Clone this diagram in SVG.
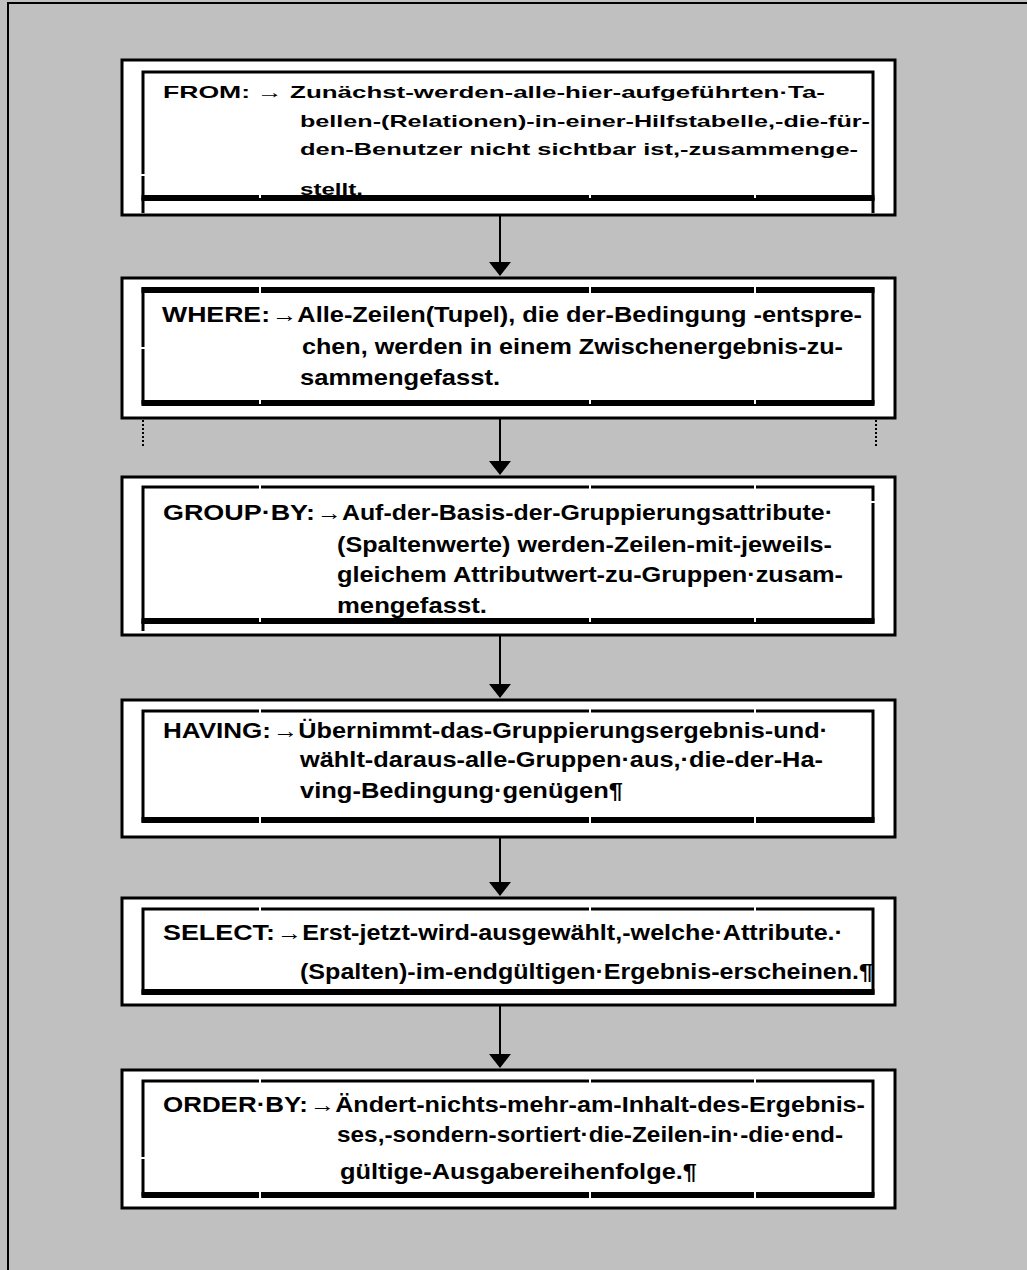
<svg xmlns="http://www.w3.org/2000/svg" width="1027" height="1270" viewBox="0 0 1027 1270">
<style>
.bg{fill:#c0c0c0}
.frame{fill:none;stroke:#000;stroke-width:2}
.outer{fill:#fff;stroke:#000;stroke-width:3}
.inner{fill:none;stroke:#000;stroke-width:3}
.thick{stroke:#000;stroke-width:6}
.gap{fill:#fff}
.t{font-family:"Liberation Sans",Arial,sans-serif;font-weight:bold;font-size:22px;fill:#000}
.s{font-size:17px}
.conn{stroke:#000;stroke-width:2;fill:none}
.dot{stroke:#000;stroke-width:2;stroke-dasharray:2 2;fill:none}
</style>
<defs>
<marker id="ah" markerWidth="14" markerHeight="22" refX="13" refY="11" orient="auto" markerUnits="userSpaceOnUse" viewBox="0 0 14 22">
<path d="M0,0 L14,11 L0,22 Z" fill="#000"/>
</marker>
</defs>
<rect class="bg" x="0" y="0" width="1027" height="1270"/>
<rect class="frame" x="8" y="3" width="1030" height="1280"/>

<g id="connectors">
<line class="conn" x1="500" y1="215" x2="500" y2="275" marker-end="url(#ah)"/>
<line class="conn" x1="500" y1="418" x2="500" y2="474" marker-end="url(#ah)"/>
<line class="conn" x1="500" y1="635" x2="500" y2="697" marker-end="url(#ah)"/>
<line class="conn" x1="500" y1="837" x2="500" y2="895" marker-end="url(#ah)"/>
<line class="conn" x1="500" y1="1005" x2="500" y2="1067" marker-end="url(#ah)"/>
<line class="dot" x1="143" y1="420" x2="143" y2="447"/>
<line class="dot" x1="876" y1="420" x2="876" y2="447"/>
</g>

<g id="from">
<rect class="outer" x="122" y="60" width="773" height="155"/>
<rect class="inner" x="143" y="72" width="730" height="126"/>
<line class="thick" x1="141.5" y1="198" x2="874.5" y2="198"/>
<line class="inner" x1="143" y1="198" x2="143" y2="213"/>
<line class="inner" x1="873" y1="198" x2="873" y2="213"/>
<rect class="gap" x="141" y="174" width="4" height="2"/>
<rect class="gap" x="259" y="194" width="2" height="4"/><rect class="gap" x="589" y="194" width="2" height="4"/><rect class="gap" x="754" y="194" width="2" height="4"/>
<text class="t s" x="163" y="98" textLength="87" lengthAdjust="spacingAndGlyphs">FROM:</text>
<text class="t s" x="257" y="98" textLength="568" lengthAdjust="spacingAndGlyphs">→ Zunächst-werden-alle-hier-aufgeführten·Ta-</text>
<text class="t s" x="300" y="127" textLength="570" lengthAdjust="spacingAndGlyphs">bellen-(Relationen)-in-einer-Hilfstabelle,-die-für-</text>
<text class="t s" x="300" y="155" textLength="558" lengthAdjust="spacingAndGlyphs">den-Benutzer nicht sichtbar ist,-zusammenge-</text>
<text class="t s" x="300" y="195" textLength="63" lengthAdjust="spacingAndGlyphs">stellt.</text>
</g>

<g id="where">
<rect class="outer" x="122" y="278" width="773" height="140"/>
<rect class="inner" x="143" y="289" width="730" height="114"/>
<line class="thick" x1="141.5" y1="290" x2="874.5" y2="290"/>
<line class="thick" x1="141.5" y1="403" x2="874.5" y2="403"/>
<rect class="gap" x="141" y="347" width="4" height="2"/>
<rect class="gap" x="259" y="287" width="2" height="6"/><rect class="gap" x="589" y="287" width="2" height="6"/><rect class="gap" x="754" y="287" width="2" height="6"/>
<rect class="gap" x="259" y="400" width="2" height="4"/><rect class="gap" x="589" y="400" width="2" height="4"/><rect class="gap" x="754" y="400" width="2" height="4"/>
<text class="t" x="162" y="322" textLength="108" lengthAdjust="spacingAndGlyphs">WHERE:</text>
<text class="t" x="272" y="322" textLength="590" lengthAdjust="spacingAndGlyphs">→Alle-Zeilen(Tupel), die der-Bedingung -entspre-</text>
<text class="t" x="302" y="354" textLength="541" lengthAdjust="spacingAndGlyphs">chen, werden in einem Zwischenergebnis-zu-</text>
<text class="t" x="300" y="385" textLength="200" lengthAdjust="spacingAndGlyphs">sammengefasst.</text>
</g>

<g id="groupby">
<rect class="outer" x="122" y="477" width="773" height="158"/>
<rect class="inner" x="143" y="487" width="730" height="135"/>
<line class="thick" x1="141.5" y1="621" x2="874.5" y2="621"/>
<line class="inner" x1="143" y1="621" x2="143" y2="631"/>
<rect class="gap" x="259" y="485" width="2" height="4"/><rect class="gap" x="589" y="485" width="2" height="4"/><rect class="gap" x="754" y="485" width="2" height="4"/>
<rect class="gap" x="259" y="618" width="2" height="4"/><rect class="gap" x="589" y="618" width="2" height="4"/><rect class="gap" x="754" y="618" width="2" height="4"/>
<rect class="gap" x="871" y="501" width="4" height="2"/>
<text class="t" x="163" y="520" textLength="152" lengthAdjust="spacingAndGlyphs">GROUP·BY:</text>
<text class="t" x="317" y="520" textLength="516" lengthAdjust="spacingAndGlyphs">→Auf-der-Basis-der-Gruppierungsattribute·</text>
<text class="t" x="337" y="552" textLength="495" lengthAdjust="spacingAndGlyphs">(Spaltenwerte) werden-Zeilen-mit-jeweils-</text>
<text class="t" x="337" y="582" textLength="506" lengthAdjust="spacingAndGlyphs">gleichem Attributwert-zu-Gruppen·zusam-</text>
<text class="t" x="337" y="613" textLength="150" lengthAdjust="spacingAndGlyphs">mengefasst.</text>
</g>

<g id="having">
<rect class="outer" x="122" y="700" width="773" height="137"/>
<rect class="inner" x="143" y="711" width="730" height="110"/>
<line class="thick" x1="141.5" y1="820" x2="874.5" y2="820"/>
<rect class="gap" x="259" y="709" width="2" height="4"/><rect class="gap" x="589" y="709" width="2" height="4"/><rect class="gap" x="754" y="709" width="2" height="4"/>
<rect class="gap" x="259" y="817" width="2" height="6"/><rect class="gap" x="589" y="817" width="2" height="6"/><rect class="gap" x="754" y="817" width="2" height="6"/>
<text class="t" x="163" y="738" textLength="108" lengthAdjust="spacingAndGlyphs">HAVING:</text>
<text class="t" x="273" y="738" textLength="555" lengthAdjust="spacingAndGlyphs">→Übernimmt-das-Gruppierungsergebnis-und·</text>
<text class="t" x="300" y="767" textLength="523" lengthAdjust="spacingAndGlyphs">wählt-daraus-alle-Gruppen·aus,·die-der-Ha-</text>
<text class="t" x="300" y="798" textLength="323" lengthAdjust="spacingAndGlyphs">ving-Bedingung·genügen¶</text>
</g>

<g id="select">
<rect class="outer" x="122" y="898" width="773" height="107"/>
<rect class="inner" x="143" y="909" width="730" height="84"/>
<line class="thick" x1="141.5" y1="992" x2="874.5" y2="992"/>
<rect class="gap" x="259" y="907" width="2" height="4"/><rect class="gap" x="589" y="907" width="2" height="4"/><rect class="gap" x="754" y="907" width="2" height="4"/>
<text class="t" x="163" y="940" textLength="112" lengthAdjust="spacingAndGlyphs">SELECT:</text>
<text class="t" x="277" y="940" textLength="566" lengthAdjust="spacingAndGlyphs">→Erst-jetzt-wird-ausgewählt,-welche·Attribute.·</text>
<text class="t" x="300" y="979" textLength="573" lengthAdjust="spacingAndGlyphs">(Spalten)-im-endgültigen·Ergebnis-erscheinen.¶</text>
</g>

<g id="orderby">
<rect class="outer" x="122" y="1070" width="773" height="138"/>
<rect class="inner" x="143" y="1081" width="730" height="114"/>
<line class="thick" x1="141.5" y1="1195" x2="874.5" y2="1195"/>
<rect class="gap" x="141" y="1157" width="4" height="2"/>
<rect class="gap" x="259" y="1079" width="2" height="4"/><rect class="gap" x="589" y="1079" width="2" height="4"/><rect class="gap" x="754" y="1079" width="2" height="4"/>
<rect class="gap" x="259" y="1192" width="2" height="6"/><rect class="gap" x="589" y="1192" width="2" height="6"/><rect class="gap" x="754" y="1192" width="2" height="6"/>
<text class="t" x="163" y="1112" textLength="145" lengthAdjust="spacingAndGlyphs">ORDER·BY:</text>
<text class="t" x="310" y="1112" textLength="555" lengthAdjust="spacingAndGlyphs">→Ändert-nichts-mehr-am-Inhalt-des-Ergebnis-</text>
<text class="t" x="337" y="1142" textLength="506" lengthAdjust="spacingAndGlyphs">ses,-sondern-sortiert·die-Zeilen-in·-die·end-</text>
<text class="t" x="340" y="1179" textLength="357" lengthAdjust="spacingAndGlyphs">gültige-Ausgabereihenfolge.¶</text>
</g>
</svg>
